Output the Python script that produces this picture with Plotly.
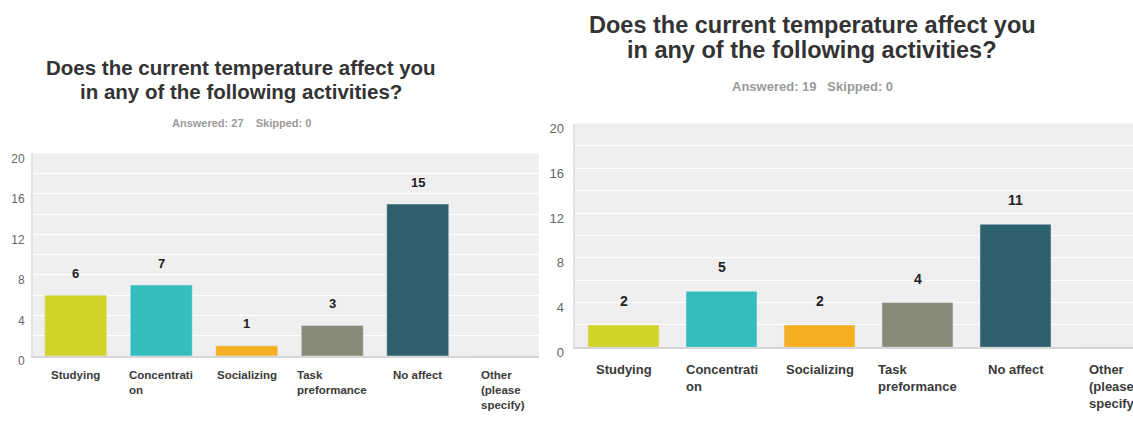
import plotly.graph_objects as go

# ---- data ----
categories = ["Studying", "Concentration", "Socializing", "Task preformance", "No affect", "Other (please specify)"]
tick_labels = ["Studying", "Concentrati<br>on", "Socializing", "Task<br>preformance", "No affect", "Other<br>(please<br>specify)"]
left_values = [6, 7, 1, 3, 15, 0]
right_values = [2, 5, 2, 4, 11, 0]
bar_colors = ["#d1d52a", "#34bdbf", "#f6ae22", "#8a8a78", "#2e5f6c", "#8a8a78"]
y_tickvals = [0, 4, 8, 12, 16, 20]
title_lines = ["Does the current temperature affect you", "in any of the following activities?"]
left_sub = "Answered: 27\u00a0\u00a0\u00a0\u00a0Skipped: 0"
right_sub = "Answered: 19\u00a0\u00a0\u00a0Skipped: 0"

W, H = 1133, 422
FONT = "Liberation Sans, Arial, sans-serif"


def px_x(p):
    return p / W


def px_y(p):
    return 1 - p / H


fig = go.Figure()
fig.add_trace(go.Bar(x=categories, y=left_values, marker_color=bar_colors, width=0.725,
                     xaxis="x", yaxis="y", showlegend=False, hoverinfo="skip"))
fig.add_trace(go.Bar(x=categories, y=right_values, marker_color=bar_colors, width=0.725,
                     xaxis="x2", yaxis="y2", showlegend=False, hoverinfo="skip"))

common_y = dict(range=[0, 20], tickvals=y_tickvals, showgrid=True, gridcolor="white", gridwidth=1,
                minor=dict(tick0=0, dtick=2, showgrid=True, gridcolor="white", gridwidth=1),
                zeroline=False, showline=True, linecolor="#e2e2e2", linewidth=2,
                ticks="", ticklabelshift=5, fixedrange=True)
common_x = dict(showticklabels=False, showgrid=False, zeroline=False, showline=True,
                linecolor="#d6d6d6", linewidth=2, ticks="", fixedrange=True)

fig.update_layout(
    width=W, height=H, margin=dict(l=0, r=0, t=0, b=0),
    paper_bgcolor="white", plot_bgcolor="#efefef",
    font=dict(family=FONT),
    bargap=0.275,
    xaxis=dict(domain=[px_x(33), px_x(539)], range=[-0.5, 5.418], anchor="y", **common_x),
    yaxis=dict(domain=[px_y(367), px_y(157)], anchor="x",
               tickfont=dict(size=12, color="#666666", family=FONT), ticklabelstandoff=4, **common_y),
    xaxis2=dict(domain=[px_x(574.5), 1.0], range=[-0.5, 5.199], anchor="y2", **common_x),
    yaxis2=dict(domain=[px_y(358), px_y(126)], anchor="x2",
                tickfont=dict(size=13, color="#666666", family=FONT), ticklabelstandoff=6, **common_y),
)

annotations = []

# titles
for cx, ys, fs, sub, sub_y, sub_fs in [
    (241, [68, 93], 20.5, left_sub, 125, 11),
    (812, [24, 50], 23.5, right_sub, 88, 13),
]:
    for line, yy in zip(title_lines, ys):
        annotations.append(dict(text="<b>" + line + "</b>", x=px_x(cx), y=px_y(yy), xref="paper", yref="paper",
                                xanchor="center", yanchor="middle", showarrow=False,
                                font=dict(size=fs, color="#333333", family=FONT)))
    annotations.append(dict(text="<b>" + sub + "</b>", x=px_x(cx), y=px_y(sub_y), xref="paper", yref="paper",
                            xanchor="center", yanchor="middle", showarrow=False,
                            font=dict(size=sub_fs, color="#9a9a9a", family=FONT)))

# value labels and category labels
for xr, vals, shift, vfs, lab_top, lfs in [
    ("x", left_values, 22, 13, 378, 11.5),
    ("x2", right_values, 24, 14, 371, 13),
]:
    for cat, v in zip(categories, vals):
        if v > 0:
            annotations.append(dict(text="<b>%d</b>" % v, x=cat, y=v, xref=xr, yref=xr.replace("x", "y"),
                                    yshift=shift, xanchor="center", yanchor="middle", showarrow=False,
                                    font=dict(size=vfs, color="#222222", family=FONT)))
    for cat, lab in zip(categories, tick_labels):
        annotations.append(dict(text="<b>" + lab + "</b>", x=cat, y=px_y(lab_top), xref=xr, yref="paper",
                                xanchor="center", yanchor="top", align="left", showarrow=False,
                                font=dict(size=lfs, color="#3a3a3a", family=FONT)))

fig.update_layout(annotations=annotations)
fig.write_html("out.html")
